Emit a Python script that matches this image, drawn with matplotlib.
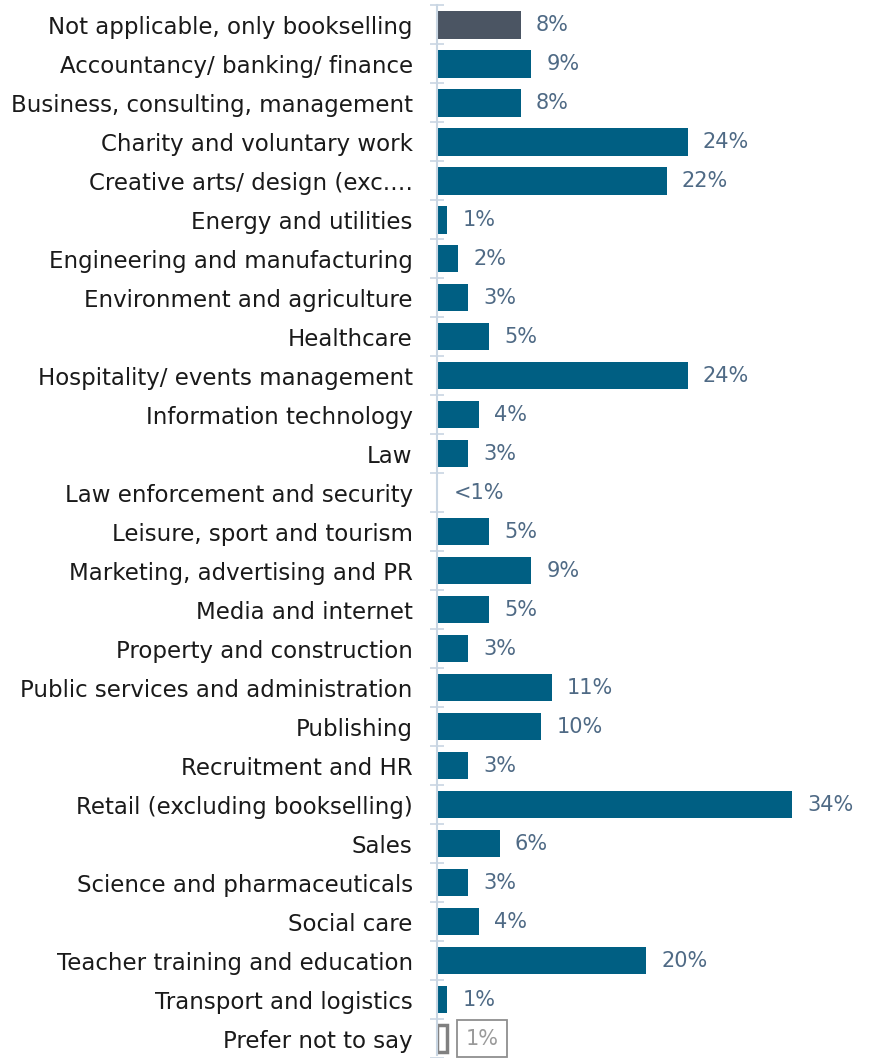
import matplotlib
matplotlib.use("Agg")
import matplotlib.pyplot as plt
import numpy as np

categories = [
    "Not applicable, only bookselling",
    "Accountancy/ banking/ finance",
    "Business, consulting, management",
    "Charity and voluntary work",
    "Creative arts/ design (exc.\u2026",
    "Energy and utilities",
    "Engineering and manufacturing",
    "Environment and agriculture",
    "Healthcare",
    "Hospitality/ events management",
    "Information technology",
    "Law",
    "Law enforcement and security",
    "Leisure, sport and tourism",
    "Marketing, advertising and PR",
    "Media and internet",
    "Property and construction",
    "Public services and administration",
    "Publishing",
    "Recruitment and HR",
    "Retail (excluding bookselling)",
    "Sales",
    "Science and pharmaceuticals",
    "Social care",
    "Teacher training and education",
    "Transport and logistics",
    "Prefer not to say",
]
values = [8, 9, 8, 24, 22, 1, 2, 3, 5, 24, 4, 3, 0.1, 5, 9, 5, 3, 11, 10, 3, 34, 6, 3, 4, 20, 1, 1]
value_labels = ["8%", "9%", "8%", "24%", "22%", "1%", "2%", "3%", "5%", "24%", "4%", "3%", "<1%",
                "5%", "9%", "5%", "3%", "11%", "10%", "3%", "34%", "6%", "3%", "4%", "20%", "1%", "1%"]

plt.rcParams["font.family"] = ["DejaVu Sans"]

fig = plt.figure(figsize=(8.72, 10.58), dpi=100)
ax = fig.add_axes([437 / 872, 0, 435 / 872, 1])

y = np.arange(len(categories))
colors = ["#4b5563"] + ["#005f83"] * (len(categories) - 2) + ["white"]
bars = ax.barh(y, values, height=0.7, color=colors, zorder=2)

# "Prefer not to say" drawn as an outlined bar with a boxed label
last = bars[-1]
last.set_edgecolor("#808080")
last.set_linewidth(2.5)

for i, (v, lab) in enumerate(zip(values, value_labels)):
    if i == len(values) - 1:
        ax.annotate(lab, (v, i), xytext=(13, 0), textcoords="offset points",
                    va="center", ha="left", fontsize=15, color="#9a9a9a",
                    bbox=dict(boxstyle="square,pad=0.4", fc="white", ec="#8f8f8f", lw=1.3))
    else:
        ax.annotate(lab, (v, i), xytext=(11, 0), textcoords="offset points",
                    va="center", ha="left", fontsize=15, color="#4f6a85")

ax.set_xlim(0, 435 / 10.44)
ax.set_ylim(26.43, -0.64)
ax.set_yticks(y)
ax.set_yticklabels(categories, fontsize=16.5, color="#1a1a1a")
ax.tick_params(axis="y", which="major", length=0, pad=17.5)
ax.set_yticks(np.arange(-0.5, len(categories) - 0.5 + 1), minor=True)
ax.tick_params(axis="y", which="minor", direction="inout", length=10, width=1.2, color="#c9d6e3")
ax.set_xticks([])

for side in ["top", "right", "bottom"]:
    ax.spines[side].set_visible(False)
ax.spines["left"].set_color("#c9d6e3")
ax.spines["left"].set_linewidth(1.5)
ax.spines["left"].set_bounds(-0.52, 26.43)

fig.savefig("out.png", dpi=100)
